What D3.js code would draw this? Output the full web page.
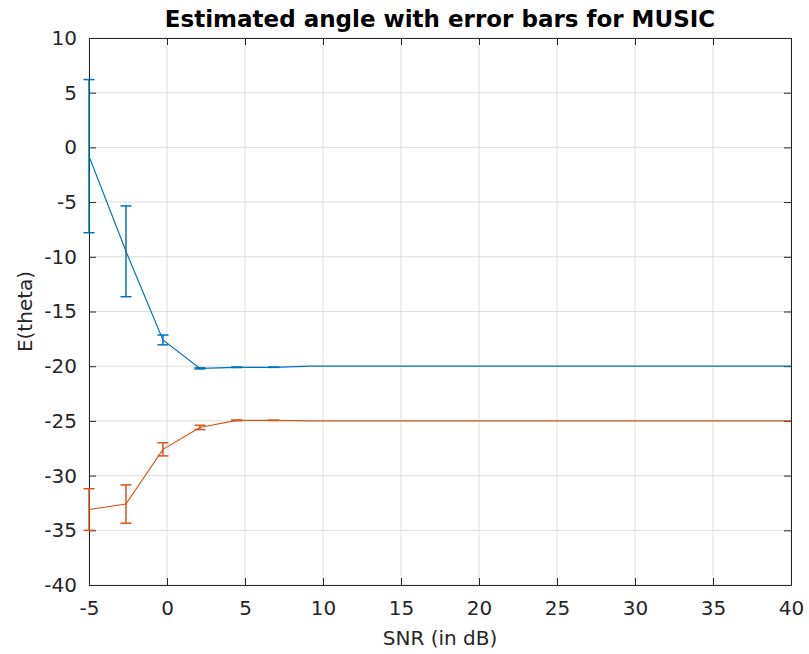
<!DOCTYPE html>
<html>
<head>
<meta charset="utf-8">
<script src="https://cdn.jsdelivr.net/npm/d3@7"></script>
<style>
  body { margin: 0; background: #fff; }
  text { font-family: "DejaVu Sans", sans-serif; }
</style>
</head>
<body>
<div id="chart"></div>
<script>
const width = 809;
const height = 654;
const margin = {top: 38, right: 18, bottom: 69, left: 89};

// SNR values (20 points from -5 to 40 dB)
const snr = [-5, -2.63, -0.26, 2.11, 4.47, 6.84, 9.21, 11.58, 13.95, 16.32,
             18.68, 21.05, 23.42, 25.79, 28.16, 30.53, 32.89, 35.26, 37.63, 40];

// estimated angle, first source (blue)
const meanA = [-0.8, -9.5, -17.6, -20.2, -20.1, -20.1, -20.0, -20.0, -20.0, -20.0,
               -20.0, -20.0, -20.0, -20.0, -20.0, -20.0, -20.0, -20.0, -20.0, -20.0];
const errA = [7.0, 4.15, 0.45, 0.05, 0.02, 0.01, 0, 0, 0, 0,
              0, 0, 0, 0, 0, 0, 0, 0, 0, 0];

// estimated angle, second source (orange)
const meanB = [-33.1, -32.6, -27.6, -25.6, -24.95, -24.95, -25.0, -25.0, -25.0, -25.0,
               -25.0, -25.0, -25.0, -25.0, -25.0, -25.0, -25.0, -25.0, -25.0, -25.0];
const errB = [1.9, 1.75, 0.6, 0.2, 0.03, 0.01, 0, 0, 0, 0,
              0, 0, 0, 0, 0, 0, 0, 0, 0, 0];

const xTicks = [-5, 0, 5, 10, 15, 20, 25, 30, 35, 40];
const yTicks = [-40, -35, -30, -25, -20, -15, -10, -5, 0, 5, 10];

const series = [
    {mean: meanA, err: errA, color: "#0072BD"},
    {mean: meanB, err: errB, color: "#D95319"}
];

const svg = d3.select("#chart").append("svg")
    .attr("width", width)
    .attr("height", height);

const x = d3.scaleLinear().domain([-5, 40]).range([margin.left, width - margin.right]);
const y = d3.scaleLinear().domain([-40, 10]).range([height - margin.bottom, margin.top]);

const x0 = margin.left, x1 = width - margin.right;
const y0 = height - margin.bottom, y1 = margin.top;

// grid
svg.append("g").selectAll("line.vg")
    .data(xTicks).enter().append("line")
    .attr("x1", d => x(d)).attr("x2", d => x(d))
    .attr("y1", y0).attr("y2", y1)
    .attr("stroke", "#dfdfdf").attr("stroke-width", 1);

svg.append("g").selectAll("line.hg")
    .data(yTicks).enter().append("line")
    .attr("x1", x0).attr("x2", x1)
    .attr("y1", d => y(d)).attr("y2", d => y(d))
    .attr("stroke", "#dfdfdf").attr("stroke-width", 1);

// axes (ticks inside, box on)
const tickLen = 7;
const axisColor = "#262626";
const fmt = d => String(d);  // plain hyphen like matlab

const xAxis = d3.axisBottom(x).tickValues(xTicks).tickFormat(fmt)
    .tickSizeInner(-tickLen).tickSizeOuter(0).tickPadding(16);
const yAxis = d3.axisLeft(y).tickValues(yTicks).tickFormat(fmt)
    .tickSizeInner(-tickLen).tickSizeOuter(0).tickPadding(12);

svg.append("g").attr("transform", `translate(0,${y0})`).call(xAxis);
svg.append("g").attr("transform", `translate(${x0},0)`).call(yAxis);
svg.append("g").attr("transform", `translate(0,${y1})`)
    .call(d3.axisTop(x).tickValues(xTicks).tickSizeInner(-tickLen).tickSizeOuter(0).tickFormat(""));
svg.append("g").attr("transform", `translate(${x1},0)`)
    .call(d3.axisRight(y).tickValues(yTicks).tickSizeInner(-tickLen).tickSizeOuter(0).tickFormat(""));

svg.selectAll(".domain").attr("stroke", axisColor);
svg.selectAll(".tick line").attr("stroke", axisColor);
svg.selectAll(".tick text")
    .attr("fill", axisColor)
    .style("font-family", "DejaVu Sans, sans-serif")
    .style("font-size", "20px");

// lines and error bars
const line = d3.line()
    .x((d, i) => x(snr[i]))
    .y(d => y(d));

const cap = 5.5;

series.forEach(s => {
    svg.append("path")
        .datum(s.mean)
        .attr("d", line)
        .attr("fill", "none")
        .attr("stroke", s.color)
        .attr("stroke-width", 1.2);

    const bars = svg.append("g").selectAll("g")
        .data(s.mean.map((m, i) => ({x: snr[i], m: m, e: s.err[i]})).filter(d => d.e > 0))
        .enter().append("g")
        .attr("stroke", s.color)
        .attr("stroke-width", 1.5);

    bars.append("line")
        .attr("x1", d => x(d.x)).attr("x2", d => x(d.x))
        .attr("y1", d => y(d.m - d.e)).attr("y2", d => y(d.m + d.e));
    bars.append("line")
        .attr("x1", d => x(d.x) - cap).attr("x2", d => x(d.x) + cap)
        .attr("y1", d => y(d.m + d.e)).attr("y2", d => y(d.m + d.e));
    bars.append("line")
        .attr("x1", d => x(d.x) - cap).attr("x2", d => x(d.x) + cap)
        .attr("y1", d => y(d.m - d.e)).attr("y2", d => y(d.m - d.e));
});

// title and labels
svg.append("text")
    .attr("x", (x0 + x1) / 2)
    .attr("y", 27)
    .attr("text-anchor", "middle")
    .style("font-size", "23px")
    .style("font-weight", "bold")
    .attr("fill", "#000")
    .text("Estimated angle with error bars for MUSIC");

svg.append("text")
    .attr("x", (x0 + x1) / 2)
    .attr("y", 645)
    .attr("text-anchor", "middle")
    .style("font-size", "20px")
    .attr("fill", axisColor)
    .text("SNR (in dB)");

svg.append("text")
    .attr("transform", `translate(32,${(y0 + y1) / 2}) rotate(-90)`)
    .attr("text-anchor", "middle")
    .style("font-size", "20px")
    .attr("fill", axisColor)
    .text("E(theta)");
</script>
</body>
</html>
